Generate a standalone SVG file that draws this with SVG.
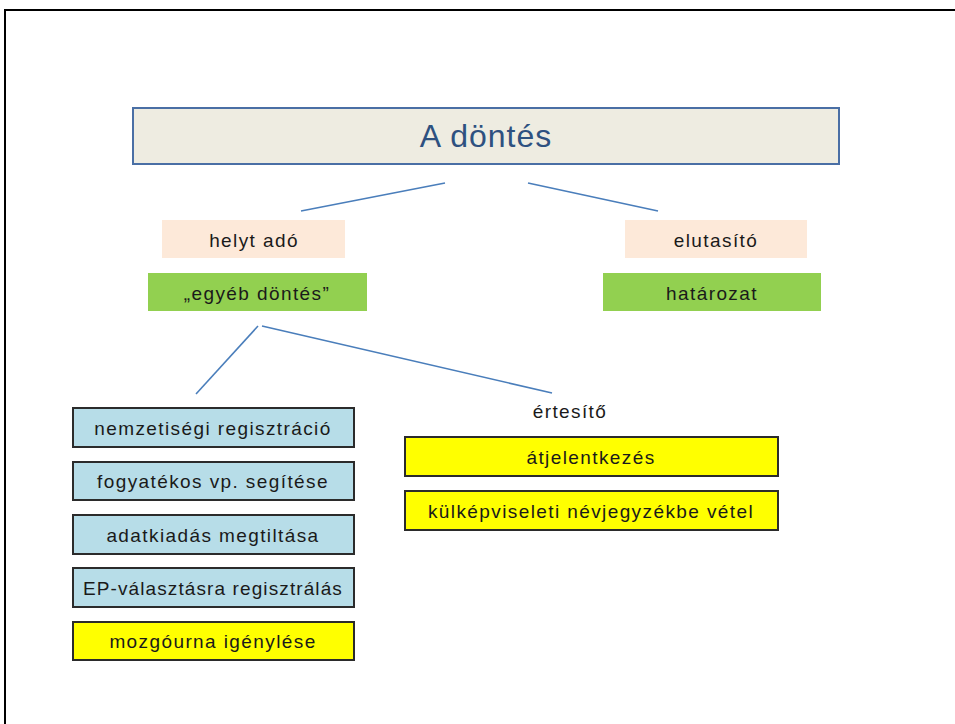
<svg xmlns="http://www.w3.org/2000/svg" width="955" height="724" viewBox="0 0 955 724">
<style>
.t{font-family:"Liberation Sans",Arial,sans-serif;font-size:19px;letter-spacing:1.4px;fill:#1a1a1a;text-anchor:middle;dominant-baseline:central}
.c{stroke:#4A7EBB;stroke-width:1.6;fill:none}
.lb{fill:#B7DDE8;stroke:#2b2b2b;stroke-width:2}
.ye{fill:#FFFF00;stroke:#2b2b2b;stroke-width:2}
.gr{fill:#92D050}
.pe{fill:#FDE9D9}
</style>
<rect x="0" y="0" width="955" height="724" fill="#fff"/>
<rect x="5" y="10" width="970" height="730" fill="none" stroke="#000" stroke-width="2"/>
<g id="connectors">
<line class="c" x1="445" y1="183" x2="301" y2="211"/>
<line class="c" x1="528" y1="183" x2="658" y2="211"/>
<line class="c" x1="258" y1="326" x2="196" y2="394"/>
<line class="c" x1="262" y1="326" x2="552" y2="393"/>
</g>
<g id="title">
<rect x="133" y="108" width="706" height="56" fill="#EEECE1" stroke="#4A6FA5" stroke-width="2"/>
<text x="486" y="136" class="t" style="font-size:32px;letter-spacing:1px;fill:#2E5180">A döntés</text>
</g>
<g id="helytado"><rect class="pe" x="162" y="220" width="183" height="38"/><text class="t" x="254" y="240">helyt adó</text></g>
<g id="elutasito"><rect class="pe" x="625" y="220" width="182" height="38"/><text class="t" x="716" y="240">elutasító</text></g>
<g id="egyeb"><rect class="gr" x="148" y="273" width="219" height="38"/><text class="t" x="257" y="293">„egyéb döntés”</text></g>
<g id="hatarozat"><rect class="gr" x="603" y="273" width="218" height="38"/><text class="t" x="712" y="293">határozat</text></g>
<g id="ertesito"><text class="t" x="570" y="411">értesítő</text></g>
<g id="n1"><rect class="lb" x="73" y="408" width="281" height="39"/><text class="t" x="213" y="428">nemzetiségi regisztráció</text></g>
<g id="n2"><rect class="lb" x="73" y="462" width="281" height="38"/><text class="t" x="213" y="481">fogyatékos vp. segítése</text></g>
<g id="n3"><rect class="lb" x="73" y="515" width="281" height="39"/><text class="t" x="213" y="535">adatkiadás megtiltása</text></g>
<g id="n4"><rect class="lb" x="73" y="568" width="281" height="39"/><text class="t" x="213" y="588" style="letter-spacing:1.1px">EP-választásra regisztrálás</text></g>
<g id="n5"><rect class="ye" x="73" y="622" width="281" height="38"/><text class="t" x="213" y="641">mozgóurna igénylése</text></g>
<g id="r1"><rect class="ye" x="405" y="437" width="373" height="39"/><text class="t" x="591" y="457">átjelentkezés</text></g>
<g id="r2"><rect class="ye" x="405" y="491" width="373" height="39"/><text class="t" x="591" y="511">külképviseleti névjegyzékbe vétel</text></g>
</svg>
